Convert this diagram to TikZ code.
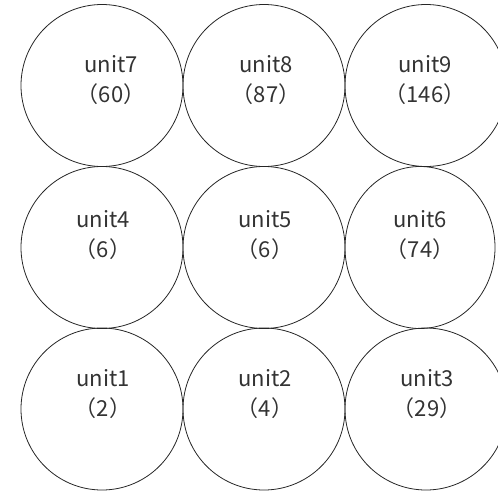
\documentclass[tikz,border=0pt]{standalone}
\usepackage{fontspec}
\setmainfont{Noto Sans CJK SC}
\usetikzlibrary{shapes.geometric}
\begin{document}
\begin{tikzpicture}[x=1pt,y=-1pt,
  cell/.style={draw=black!85,line width=0.8pt,circle,minimum size=162pt,inner sep=0pt},
  oval/.style={draw=black!85,line width=0.8pt,ellipse,minimum width=150pt,minimum height=162pt,inner sep=0pt},
  lbl/.style={align=center,font=\fontsize{22}{30}\selectfont,text=black!80,inner sep=0pt}]
\useasboundingbox (0,0) rectangle (498,493);
\clip (0,0) rectangle (498,493);
\node[cell] (c7) at (102,85.5) {};
\node[cell] (c8) at (264,85.5) {};
\node[cell] (c9) at (426,85.5) {};
\node[cell] (c4) at (102,247.5) {};
\node[cell] (c5) at (264,247.5) {};
\node[oval] (c6) at (420,247.5) {};
\node[cell] (c1) at (102,409) {};
\node[cell] (c2) at (264,409) {};
\node[cell] (c3) at (426,409) {};
\node[lbl] (t7) at (111,80) {unit7\\（60）};
\node[lbl] (t8) at (266,80) {unit8\\（87）};
\node[lbl] (t9) at (425,80) {unit9\\（146）};
\node[lbl] (t4) at (103,235) {unit4\\（6）};
\node[lbl] (t5) at (265,235) {unit5\\（6）};
\node[lbl] (t6) at (420,235) {unit6\\（74）};
\node[lbl] (t1) at (103,394) {unit1\\（2）};
\node[lbl] (t2) at (265,394) {unit2\\（4）};
\node[lbl] (t3) at (427,394) {unit3\\（29）};
\end{tikzpicture}
\end{document}
